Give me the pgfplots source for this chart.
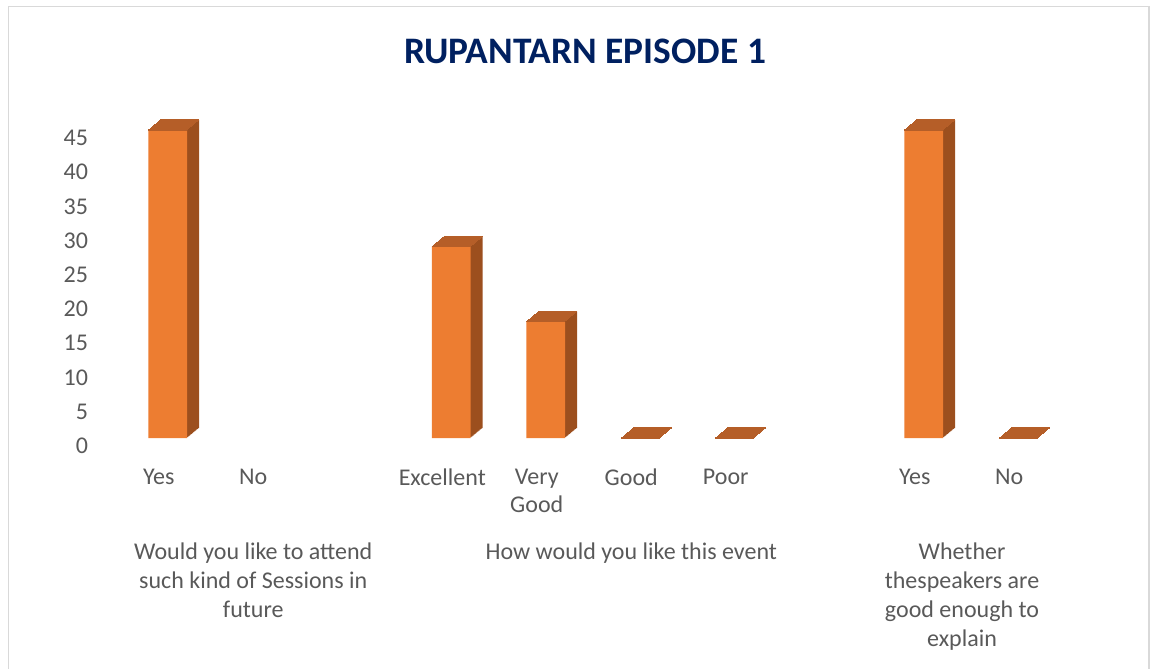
\documentclass[border=0pt]{standalone}
\usepackage{pgfplots}
\pgfplotsset{compat=1.18}
\usepackage{pgfplotstable}
\usepackage{fontspec}
\setmainfont{Carlito}
\definecolor{front}{HTML}{ED7D31}
\definecolor{sidec}{HTML}{9C4F1E}
\definecolor{topc}{HTML}{B55E28}
\definecolor{txt}{HTML}{595959}
\definecolor{ttl}{HTML}{002060}
\definecolor{frame}{HTML}{D9D9D9}
\pgfplotstableread{
x y
0 45
3 28
4 17
5 0
6 0
8 45
9 0
}\datatable
\begin{document}
\begin{tikzpicture}
\useasboundingbox (-47.5pt,-115pt) rectangle (529.5pt,219pt);
\draw[frame, line width=0.75pt] (-43.25pt,-131pt) rectangle (527pt,215.75pt);
\node[anchor=base, font=\fontsize{18.7}{22}\selectfont\bfseries, text=ttl, inner sep=0pt] at (245pt,187.4pt) {RUPANTARN EPISODE 1};
\begin{axis}[
  x=47.25pt, y=3.422pt,
  xmin=-0.77, xmax=9.7, ymin=0, ymax=48,
  clip=false,
  axis line style={draw=none},
  major tick length=0pt,
  ytick={0,5,...,45},
  /pgf/number format/assume math mode=true,
  yticklabel style={font=\fontsize{12}{14.5}\selectfont, text=txt, yshift=-4pt},
  xtick={0,1,3,4,5,6,8,9},
  xticklabels={Yes,No,Excellent,Very\\Good,Good,Poor,Yes,No},
  xticklabel style={font=\fontsize{12}{14}\selectfont, text=txt, align=center, anchor=north, xshift=-4.5pt, yshift=-12.1pt},
]
\pgfplotsinvokeforeach{12,11,...,1}{
  \addplot[ybar, bar width=19.3pt, bar shift=0pt, fill=sidec, draw=none, xshift=#1*0.5pt, yshift=#1*0.4167pt] table[x=x,y=y] {\datatable};
}
\pgfplotsinvokeforeach{12,11,...,0}{
  \addplot[only marks, mark=-, mark size=9.65pt, topc, mark options={line width=0.65pt}, xshift=#1*0.5pt, yshift=#1*0.4167pt] table[x=x,y=y] {\datatable};
}
\addplot[ybar, bar width=19.3pt, bar shift=0pt, fill=front, draw=none] table[x=x,y=y] {\datatable};
\begin{scope}[every node/.style={anchor=north, align=center, text=txt, font=\fontsize{12}{14.5}\selectfont, xshift=-4.5pt, yshift=-49pt}]
\node at (axis cs:1,0) {Would you like to attend\\such kind of Sessions in\\future};
\node at (axis cs:5,0) {How would you like this event};
\node at (axis cs:8.5,0) {Whether\\thespeakers are\\good enough to\\explain};
\end{scope}
\end{axis}
\end{tikzpicture}
\end{document}
